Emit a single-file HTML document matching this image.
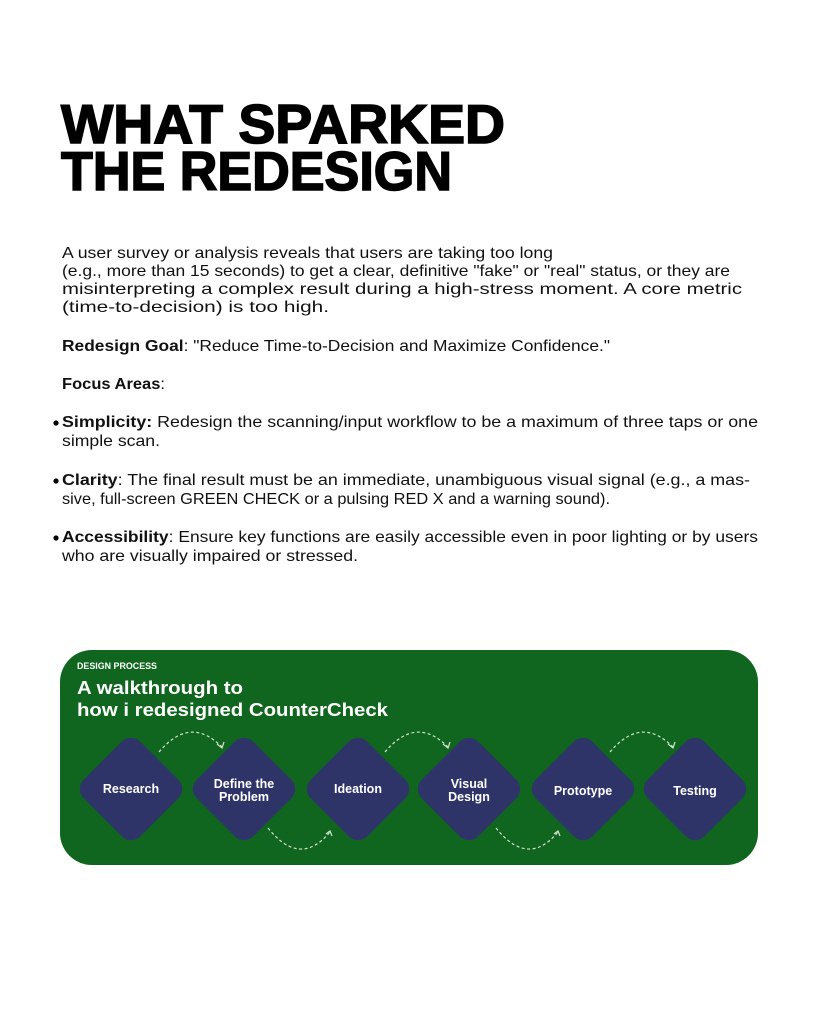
<!DOCTYPE html>
<html><head><meta charset="utf-8"><style>
html,body{margin:0;padding:0;background:#fff;}
svg{display:block;}
text{font-family:"Liberation Sans",sans-serif;}
</style></head><body>
<svg width="819" height="1024" viewBox="0 0 819 1024" xmlns="http://www.w3.org/2000/svg">
<rect width="819" height="1024" fill="#fff"/>
<g font-weight="bold" font-size="55" fill="#000" stroke="#000" stroke-width="1.6">
<text x="61" y="143" textLength="444" lengthAdjust="spacingAndGlyphs">WHAT SPARKED</text>
<text x="61" y="190" textLength="391" lengthAdjust="spacingAndGlyphs">THE REDESIGN</text>
</g>
<g font-size="16" fill="#111">
<text x="62" y="258" textLength="491" lengthAdjust="spacingAndGlyphs">A user survey or analysis reveals that users are taking too long</text>
<text x="62" y="276" textLength="668" lengthAdjust="spacingAndGlyphs">(e.g., more than 15 seconds) to get a clear, definitive "fake" or "real" status, or they are</text>
<text x="62" y="294" textLength="680" lengthAdjust="spacingAndGlyphs">misinterpreting a complex result during a high-stress moment. A core metric</text>
<text x="62" y="312" textLength="267" lengthAdjust="spacingAndGlyphs">(time-to-decision) is too high.</text>
<text x="62" y="351" textLength="548" lengthAdjust="spacingAndGlyphs"><tspan font-weight="bold">Redesign Goal</tspan>: "Reduce Time-to-Decision and Maximize Confidence."</text>
<text x="62" y="389" textLength="103" lengthAdjust="spacingAndGlyphs"><tspan font-weight="bold">Focus Areas</tspan>:</text>
<text x="62" y="427" textLength="696" lengthAdjust="spacingAndGlyphs"><tspan font-weight="bold">Simplicity:</tspan> Redesign the scanning/input workflow to be a maximum of three taps or one</text>
<text x="62" y="446" textLength="98" lengthAdjust="spacingAndGlyphs">simple scan.</text>
<text x="62" y="485" textLength="688" lengthAdjust="spacingAndGlyphs"><tspan font-weight="bold">Clarity</tspan>: The final result must be an immediate, unambiguous visual signal (e.g., a mas-</text>
<text x="62" y="504" textLength="548" lengthAdjust="spacingAndGlyphs">sive, full-screen GREEN CHECK or a pulsing RED X and a warning sound).</text>
<text x="62" y="542" textLength="696" lengthAdjust="spacingAndGlyphs"><tspan font-weight="bold">Accessibility</tspan>: Ensure key functions are easily accessible even in poor lighting or by users</text>
<text x="62" y="561" textLength="296" lengthAdjust="spacingAndGlyphs">who are visually impaired or stressed.</text>
</g>
<circle cx="56" cy="423" r="2.6" fill="#000"/>
<circle cx="56" cy="481" r="2.6" fill="#000"/>
<circle cx="56" cy="538" r="2.6" fill="#000"/>
<rect x="60" y="650" width="698" height="215" rx="32" fill="#10661e"/>
<g fill="#fff" font-weight="bold">
<text x="77" y="669" font-size="9" textLength="80" lengthAdjust="spacingAndGlyphs">DESIGN PROCESS</text>
<text x="77" y="694" font-size="18" textLength="166" lengthAdjust="spacingAndGlyphs">A walkthrough to</text>
<text x="77" y="716" font-size="18" textLength="311" lengthAdjust="spacingAndGlyphs">how i redesigned CounterCheck</text>
</g>
<g fill="#2e3468">
<rect x="-40" y="-40" width="80" height="80" rx="13" transform="translate(131 789) rotate(45)"/>
<rect x="-40" y="-40" width="80" height="80" rx="13" transform="translate(244 789) rotate(45)"/>
<rect x="-40" y="-40" width="80" height="80" rx="13" transform="translate(358 789) rotate(45)"/>
<rect x="-40" y="-40" width="80" height="80" rx="13" transform="translate(469 789) rotate(45)"/>
<rect x="-40" y="-40" width="80" height="80" rx="13" transform="translate(583 789) rotate(45)"/>
<rect x="-40" y="-40" width="80" height="80" rx="13" transform="translate(695 789) rotate(45)"/>
</g>
<g fill="#fff" font-weight="bold" font-size="12.5" text-anchor="middle">
<text x="131" y="793">Research</text>
<text x="244" y="788">Define the</text>
<text x="244" y="801">Problem</text>
<text x="358" y="793">Ideation</text>
<text x="469" y="788">Visual</text>
<text x="469" y="801">Design</text>
<text x="583" y="795">Prototype</text>
<text x="695" y="795">Testing</text>
</g>
<g fill="none" stroke="#cfe0cf" stroke-width="1.2" stroke-dasharray="3 2.5">
<path d="M159 752 Q190 715 222 747"/>
<path d="M385 752 Q416 715 448 747"/>
<path d="M610 752 Q641 715 673 747"/>
<path d="M268 828 Q300 868 330 832"/>
<path d="M496 828 Q528 868 558 832"/>
</g>
<g fill="none" stroke="#cfe0cf" stroke-width="1.2">
<path d="M217 744 L222 748 L224 742"/><path d="M443 744 L448 748 L450 742"/><path d="M668 744 L673 748 L675 742"/>
<path d="M326 834 L330 831 L332 836"/><path d="M554 834 L558 831 L560 836"/>
</g>
</svg>
</body></html>
